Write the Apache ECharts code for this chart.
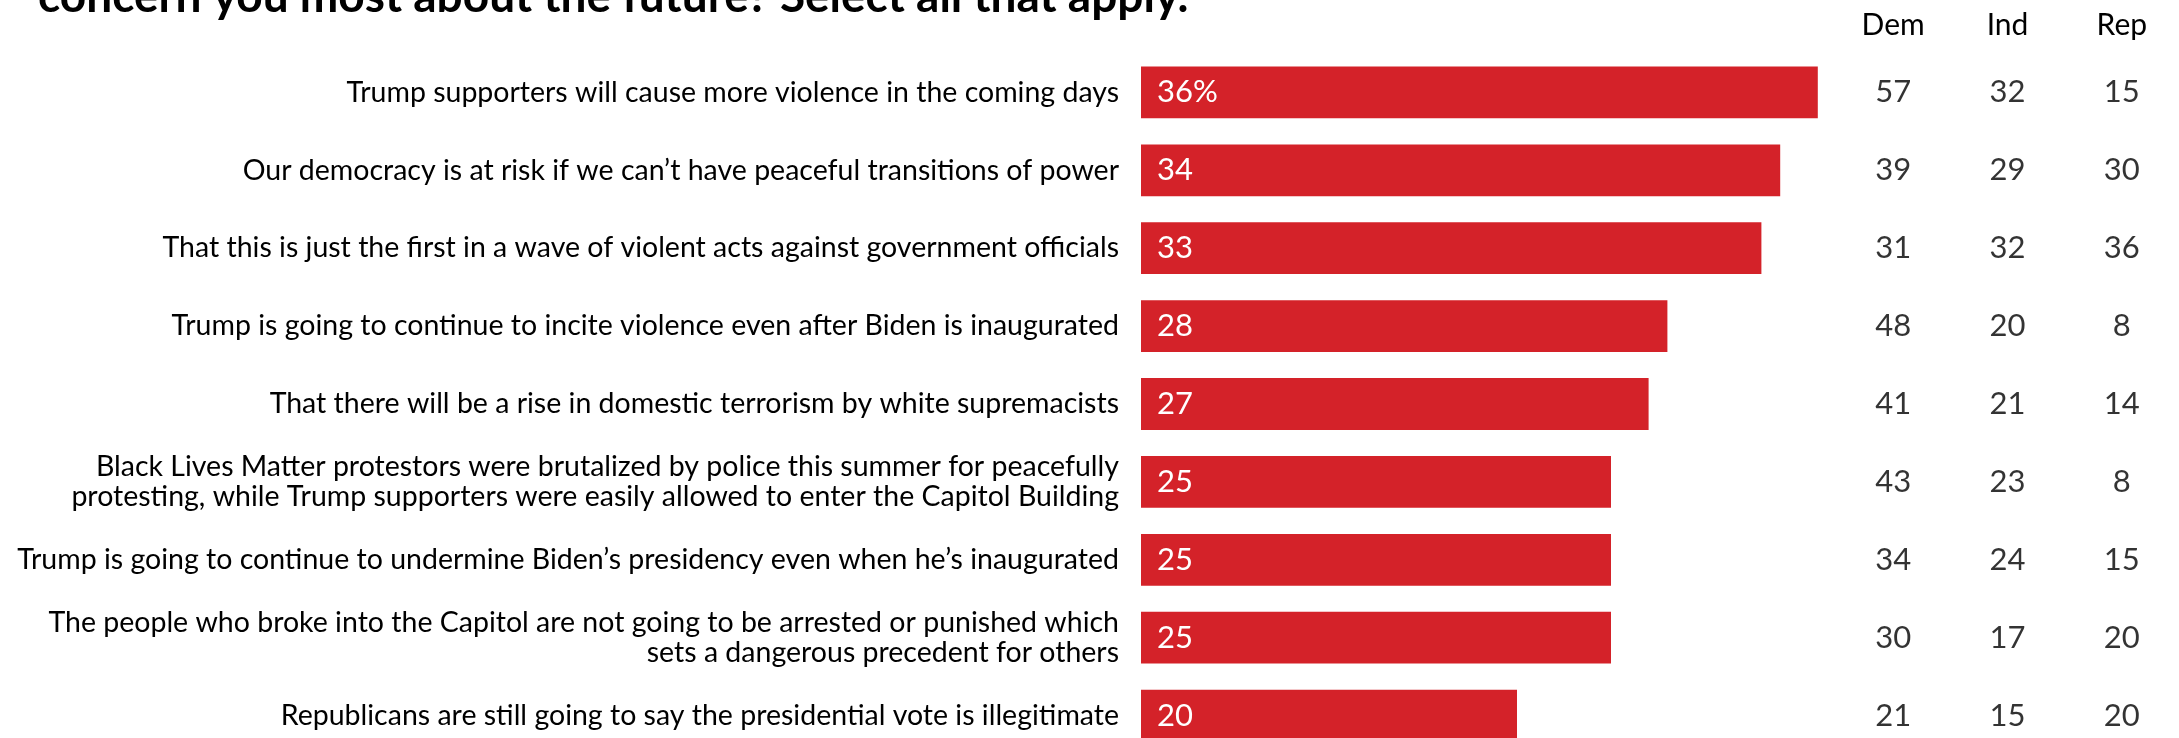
<!DOCTYPE html>
<html>
<head>
<meta charset="utf-8">
<script src="https://cdn.jsdelivr.net/npm/echarts@6/dist/echarts.min.js"></script>
<style>
html,body{margin:0;padding:0;background:#fff;overflow:hidden;}
#chart{width:2179px;height:755px;}
</style>
</head>
<body>
<div id="chart"></div>
<script>
const titleText = "concern you most about the future? Select all that apply.";
const categories = [
  "Trump supporters will cause more violence in the coming days",
  "Our democracy is at risk if we can\u2019t have peaceful transitions of power",
  "That this is just the first in a wave of violent acts against government officials",
  "Trump is going to continue to incite violence even after Biden is inaugurated",
  "That there will be a rise in domestic terrorism by white supremacists",
  "Black Lives Matter protestors were brutalized by police this summer for peacefully\nprotesting, while Trump supporters were easily allowed to enter the Capitol Building",
  "Trump is going to continue to undermine Biden\u2019s presidency even when he\u2019s inaugurated",
  "The people who broke into the Capitol are not going to be arrested or punished which\nsets a dangerous precedent for others",
  "Republicans are still going to say the presidential vote is illegitimate"
];
const totalValues = [36, 34, 33, 28, 27, 25, 25, 25, 20];
const partyColumns = ["Dem", "Ind", "Rep"];
const demValues = [57, 39, 31, 48, 41, 43, 34, 30, 21];
const indValues = [32, 29, 32, 20, 21, 23, 24, 17, 15];
const repValues = [15, 30, 36, 8, 14, 8, 15, 20, 20];

const FONT = "Lato";
const chart = echarts.init(document.getElementById('chart'));

function partySeries(idx, vals) {
  return {
    type: 'scatter',
    xAxisIndex: 1,
    yAxisIndex: 1,
    symbolSize: 0,
    silent: true,
    data: vals.map((v, i) => [partyColumns[idx], categories[i], v]),
    label: {
      show: true,
      position: 'inside',
      formatter: p => String(p.value[2]),
      color: '#000',
      fontFamily: FONT,
      fontSize: 31
    }
  };
}

chart.setOption({
  animation: false,
  backgroundColor: '#fff',
  graphic: [{
    type: 'text',
    left: 38,
    top: -26,
    style: {
      text: titleText,
      fontFamily: FONT,
      fontWeight: 'bold',
      fontSize: 46,
      fill: '#000'
    }
  }],
  grid: [
    { left: 1141, right: 0, top: 53.5, height: 701, containLabel: false },
    { left: 1836, width: 363, top: 53.5, height: 701, containLabel: false }
  ],
  xAxis: [
    { type: 'value', gridIndex: 0, min: 0, max: 1038 / 18.8, show: false },
    {
      type: 'category', gridIndex: 1, position: 'top', data: partyColumns,
      axisLine: { show: false }, axisTick: { show: false }, splitLine: { show: false },
      axisLabel: { color: '#000', fontFamily: FONT, fontSize: 30, margin: 13 }
    }
  ],
  yAxis: [
    {
      type: 'category', gridIndex: 0, inverse: true, data: categories,
      axisLine: { show: false }, axisTick: { show: false }, splitLine: { show: false },
      axisLabel: { color: '#000', fontFamily: FONT, fontSize: 28.5, lineHeight: 30, margin: 22, align: 'right' }
    },
    {
      type: 'category', gridIndex: 1, inverse: true, data: categories, show: false
    }
  ],
  series: [
    {
      type: 'bar',
      xAxisIndex: 0,
      yAxisIndex: 0,
      data: totalValues,
      barCategoryGap: '33.5%',
      itemStyle: { color: '#d42229' },
      label: {
        show: true,
        position: 'insideLeft',
        distance: 16,
        color: '#fff',
        fontFamily: FONT,
        fontSize: 31,
        formatter: p => p.dataIndex === 0 ? p.value + '%' : String(p.value)
      }
    },
    partySeries(0, demValues),
    partySeries(1, indValues),
    partySeries(2, repValues)
  ]
});
</script>
</body>
</html>
